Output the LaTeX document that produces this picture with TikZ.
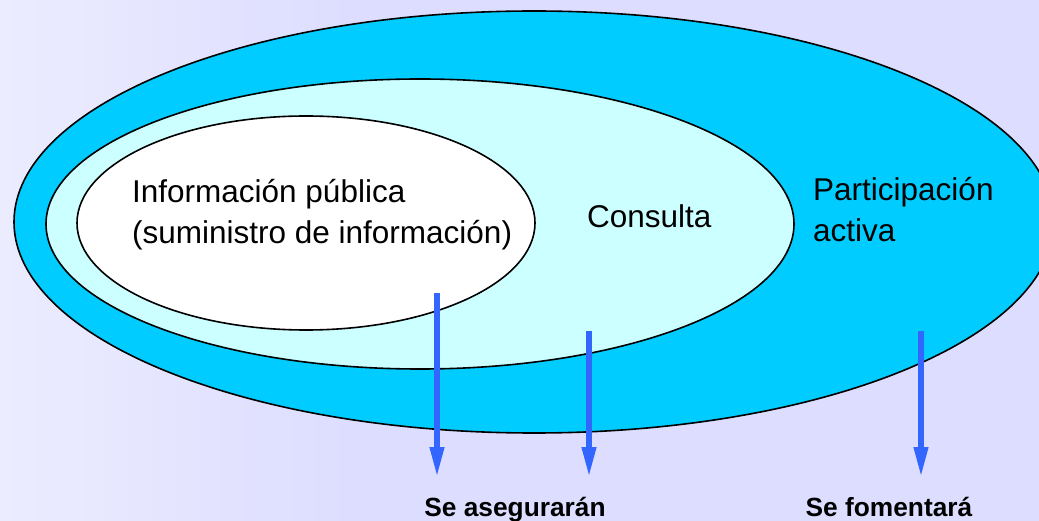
\documentclass[tikz,border=0pt]{standalone}
\usepackage{fontspec}
\setmainfont{Liberation Sans}
\usetikzlibrary{arrows.meta}

\definecolor{fondo}{HTML}{DDDDFF}
\definecolor{fondoclaro}{HTML}{ECECFF}
\definecolor{cian}{HTML}{00CCFF}
\definecolor{cianclaro}{HTML}{CCFFFF}
\definecolor{azulflecha}{HTML}{3366FF}

\begin{document}
\begin{tikzpicture}[x=1pt,y=-1pt,
    anillo/.style={draw=black,line width=1.6pt},
    texto/.style={inner sep=0pt,anchor=base west,align=left,font=\fontsize{31.5}{41}\selectfont},
    rotulo/.style={inner sep=0pt,anchor=base,font=\fontsize{26.3}{30}\selectfont\bfseries},
    flecha/.style={draw=azulflecha,line width=6.5pt,-{Triangle[width=13pt,length=32pt]}}]
  \useasboundingbox (0,0) rectangle (1039,521);
  \clip (0,0) rectangle (1039,521);
  % fondo
  \fill[fondo] (0,0) rectangle (1039,521);
  \shade[left color=fondoclaro,right color=fondo] (0,0) rectangle (350,521);
  % elipses
  \filldraw[anillo,fill=cian] (534,222) ellipse (520 and 211);
  \filldraw[anillo,fill=cianclaro] (420,224) ellipse (374 and 145);
  \filldraw[anillo,fill=white] (306,223) ellipse (229 and 107);
  % textos (base = ultima linea)
  \node[texto] (info) at (132,244) {Información pública\\(suministro de información)};
  \node[texto] (consulta) at (587,228) {Consulta};
  \node[texto] (activa) at (813,242) {Participación\\activa};
  \node[rotulo] (asegura) at (515,516) {Se asegurarán};
  \node[rotulo] (fomenta) at (889,516) {Se fomentará};
  % flechas
  \foreach \n/\x/\y in {1/437/293,2/589/331,3/921/331}{
    \coordinate (ini\n) at (\x,\y);
    \coordinate (fin\n) at (\x,479);
    \draw[flecha] (ini\n) -- (fin\n);
  }
\end{tikzpicture}
\end{document}
